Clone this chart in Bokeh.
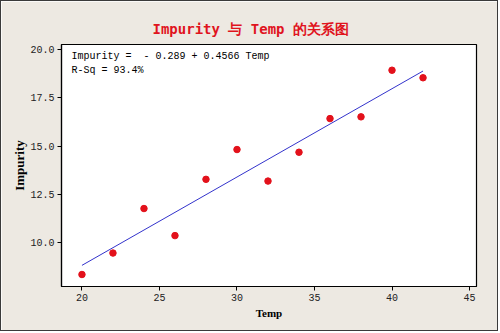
from bokeh.plotting import figure
from bokeh.models import Range1d, FixedTicker, NumeralTickFormatter, Label
from bokeh.embed import file_html
from bokeh.resources import INLINE

# ---- data ----
temp = [20, 22, 24, 26, 28, 30, 32, 34, 36, 38, 40, 42]
impurity = [8.37, 9.48, 11.78, 10.38, 13.29, 14.83, 13.20, 14.69, 16.43, 16.52, 18.93, 18.54]
intercept = -0.289
slope = 0.4566
r_sq = 93.4
x_ticks = [20, 25, 30, 35, 40, 45]
y_ticks = [10.0, 12.5, 15.0, 17.5, 20.0]
title_text = "Impurity 与 Temp 的关系图"
x_label = "Temp"
y_label = "Impurity"

fit_x = [min(temp), max(temp)]
fit_y = [intercept + slope * v for v in fit_x]

BG = "#EDE9E2"

p = figure(width=498, height=331, output_backend="svg", toolbar_location=None,
           x_range=Range1d(18.68, 45.45), y_range=Range1d(7.75, 20.26),
           min_border_left=60, min_border_right=23, min_border_top=43, min_border_bottom=46)
p.styles = {"border": "1px solid #3a3a3a"}
p.background_fill_color = "white"
p.border_fill_color = BG
p.outline_line_color = "black"
p.outline_line_width = 1.2
p.xgrid.visible = False
p.ygrid.visible = False

p.title.text = title_text
p.title.align = "left"
p.title.offset = 91
p.title.text_color = "#E0141E"
p.title.text_font = "DejaVu Sans Mono"
p.title.text_font_size = "14px"
p.title.text_font_style = "bold"
p.title.standoff = 15

for ax in (p.xaxis[0], p.yaxis[0]):
    ax.axis_line_color = "black"
    ax.axis_line_width = 1.2
    ax.major_tick_line_color = "black"
    ax.major_tick_out = 4
    ax.major_tick_in = 0
    ax.minor_tick_line_color = None
    ax.major_label_text_font = "Liberation Mono"
    ax.major_label_text_font_size = "10px"
    ax.major_label_text_color = "#222222"
    ax.major_label_standoff = 3
    ax.axis_label_text_font = "Liberation Serif"
    ax.axis_label_text_font_style = "bold"
    ax.axis_label_text_font_size = "11px"
    ax.axis_label_text_color = "black"

p.xaxis.ticker = FixedTicker(ticks=x_ticks)
p.yaxis.ticker = FixedTicker(ticks=y_ticks)
p.yaxis.formatter = NumeralTickFormatter(format="0.0")
p.xaxis.axis_label = x_label
p.yaxis.axis_label = y_label
p.yaxis.axis_label_text_font_size = "13px"
p.xaxis.axis_label_standoff = 3
p.yaxis.axis_label_standoff = 0

p.line(fit_x, fit_y, line_color="#3333CC", line_width=1)
p.scatter(temp, impurity, size=6.5, fill_color="#E3111B", line_color="#E3111B")

eq_text = f"Impurity =\u00a0\u00a0- {abs(intercept):.3f} + {slope:.4f} Temp\nR-Sq = {r_sq:.1f}%"
eq = Label(x=18.68, y=20.26, x_offset=10, y_offset=-6, text_baseline="top",
           text=eq_text,
           text_font="Liberation Mono", text_font_size="10px", text_color="black",
           text_line_height=1.35)
p.add_layout(eq)

open("out.html", "w").write(file_html(p, INLINE))
